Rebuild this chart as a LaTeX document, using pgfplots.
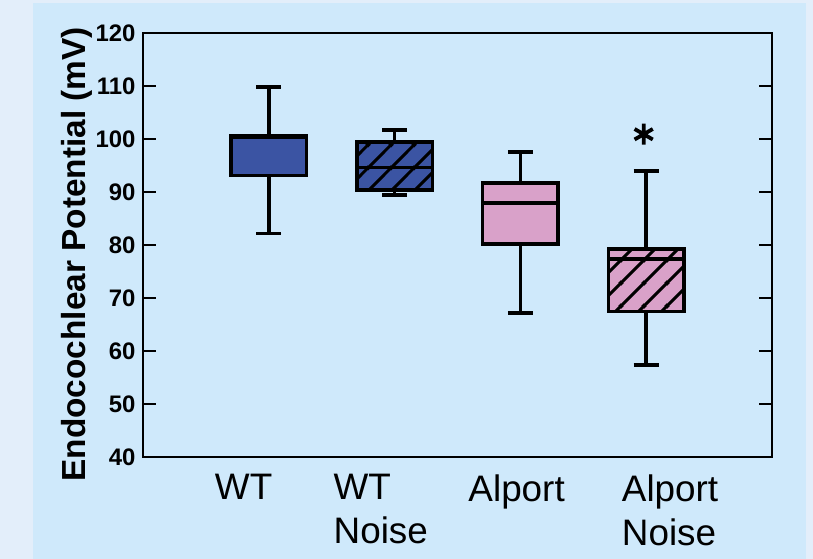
\documentclass[border=0pt]{standalone}
\usepackage{pgfplots}
\pgfplotsset{compat=1.18}
\usepgfplotslibrary{statistics}
\usetikzlibrary{patterns}
\usepackage{fontspec}
\setmainfont{Liberation Sans}
\definecolor{outerbg}{HTML}{E3EEFA}
\definecolor{panelbg}{HTML}{CFE9FB}
\definecolor{wtblue}{HTML}{3B54A3}
\definecolor{alpink}{HTML}{D9A1C9}
\pgfdeclarepatternformonly{myhatch}{\pgfpoint{0bp}{0bp}}{\pgfpoint{23bp}{23bp}}{\pgfpoint{23bp}{23bp}}{%
  \pgfsetlinewidth{3bp}%
  \pgfpathmoveto{\pgfpoint{-2bp}{-2bp}}\pgfpathlineto{\pgfpoint{25bp}{25bp}}%
  \pgfpathmoveto{\pgfpoint{-25bp}{-2bp}}\pgfpathlineto{\pgfpoint{2bp}{25bp}}%
  \pgfpathmoveto{\pgfpoint{21bp}{-2bp}}\pgfpathlineto{\pgfpoint{48bp}{25bp}}%
  \pgfusepath{stroke}}
\begin{document}
\begin{tikzpicture}
\fill[outerbg] (-143bp,-102bp) rectangle (670bp,457bp);
\fill[panelbg] (-110bp,-102bp) rectangle (663bp,454bp);
\begin{axis}[at={(0,0)}, anchor=south west, scale only axis,
  width=629bp, height=424bp,
  xmin=0, xmax=5, ymin=40, ymax=120,
  boxplot/draw direction=y,
  ytick={40,50,...,120},
  xtick={0.80,1.89,2.97,4.19},
  xticklabels={WT, WT\\Noise, Alport, Alport\\Noise},
  xticklabel style={align=left, font=\fontsize{37}{44}\selectfont, yshift=-14bp},
  xtick style={draw=none},
  ytick pos=both, yticklabel pos=left,
  tick align=inside, major tick length=13bp,
  ytick style={line width=2.5bp, black},
  axis line style={line width=2.5bp, black},
  /pgf/number format/assume math mode=true,
  yticklabel style={font=\bfseries\fontsize{24}{27}\selectfont, xshift=-4bp},
  ylabel={Endocochlear Potential (mV)},
  every axis y label/.style={at={(axis description cs:-0.0922,0.478)}, anchor=base, rotate=90, font=\bfseries\fontsize{33.5}{40}\selectfont},
  clip=false]
\addplot[boxplot prepared={draw position=1, lower whisker=82.2, lower quartile=93.1, median=100.3, upper quartile=100.6, upper whisker=109.8, box extend=0.6, whisker extend=0.2}, draw=black, fill=wtblue, line width=3.5bp] coordinates {};
\addplot[boxplot prepared={draw position=2, lower whisker=89.4, lower quartile=90.4, median=94.6, upper quartile=99.4, upper whisker=101.7, box extend=0.6, whisker extend=0.2}, draw=black, fill=wtblue, line width=3.5bp, boxplot/every box/.append style={postaction={pattern=myhatch}}] coordinates {};
\addplot[boxplot prepared={draw position=3, lower whisker=67.2, lower quartile=80.2, median=87.9, upper quartile=91.7, upper whisker=97.5, box extend=0.6, whisker extend=0.2}, draw=black, fill=alpink, line width=3.5bp] coordinates {};
\addplot[boxplot prepared={draw position=4, lower whisker=57.4, lower quartile=67.5, median=77.4, upper quartile=79.2, upper whisker=94.0, box extend=0.6, whisker extend=0.2}, draw=black, fill=alpink, line width=3.5bp, boxplot/every box/.append style={postaction={pattern=myhatch}}] coordinates {};
\addplot[only marks, mark=asterisk, mark size=10.5bp, mark options={line width=3.8bp, black}] coordinates {(3.98,100.9)};
\end{axis}
\end{tikzpicture}
\end{document}
